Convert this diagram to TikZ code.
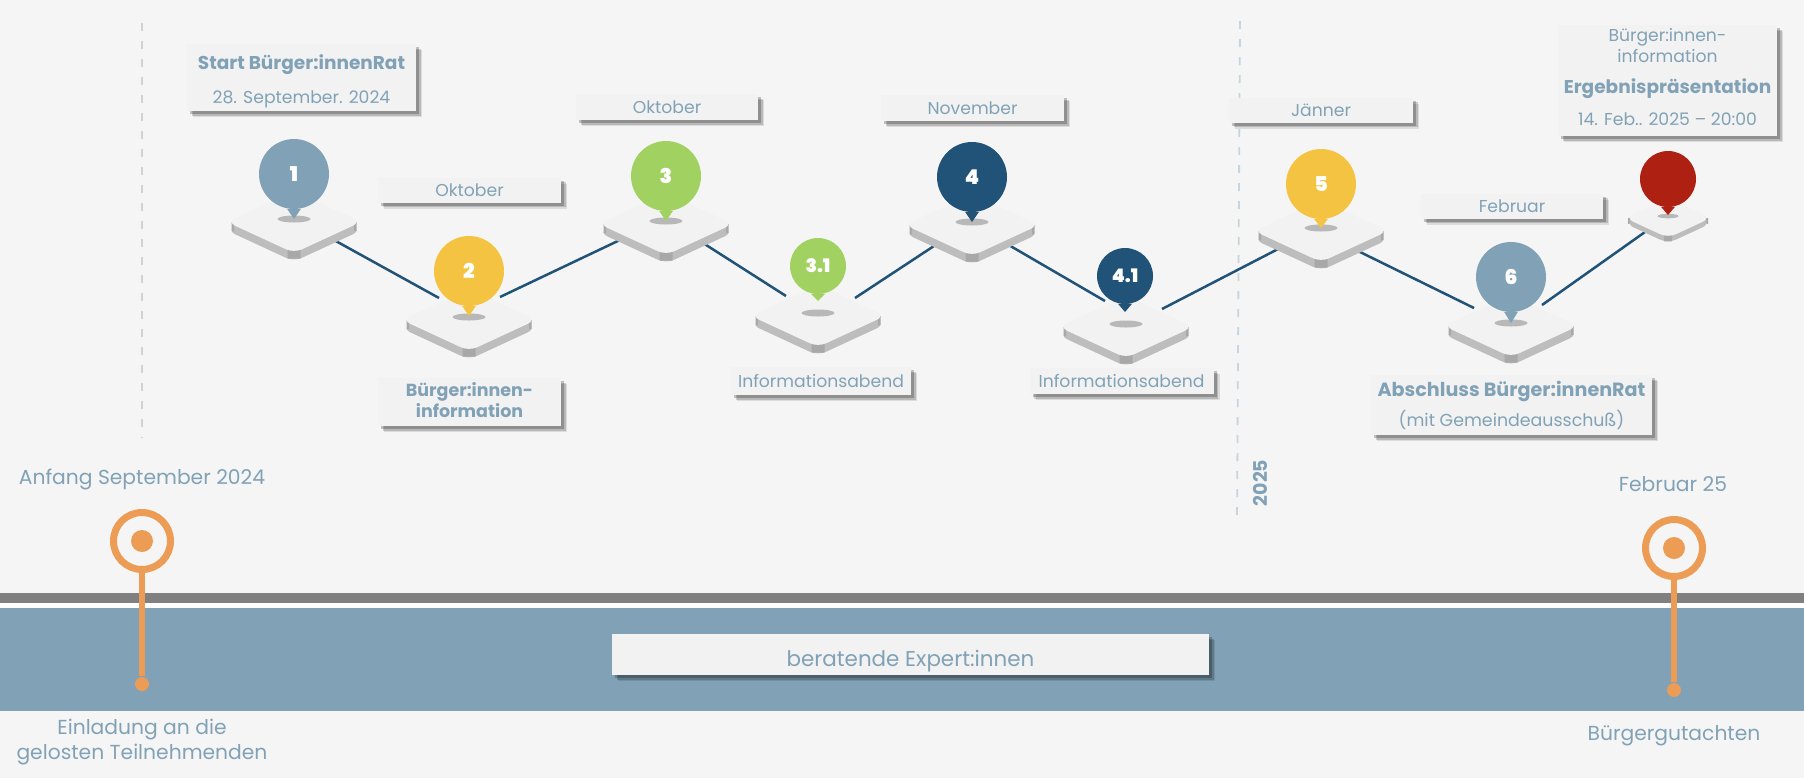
\documentclass[tikz,border=0pt]{standalone}
\usepackage{fontspec}
\setmainfont{Poppins}
\newfontfamily\numfont{Poppins Black}
\usetikzlibrary{shadows}
\definecolor{pagegray}{HTML}{F5F5F5}
\definecolor{boxgray}{HTML}{F2F2F2}
\definecolor{steel}{HTML}{81A2B6}
\definecolor{navy}{HTML}{215277}
\definecolor{sun}{HTML}{F5C342}
\definecolor{leaf}{HTML}{A1D160}
\definecolor{brick}{HTML}{AE2012}
\definecolor{amber}{HTML}{EC9C55}
\tikzset{
    platform/.pic={
        \fill[black!26, rounded corners=2.5pt] (-.67,-.085) -- (0,-.395) -- (.67,-.085) -- (0,.225) -- cycle;
        \fill[black!26] (-.62,0) rectangle (.62,-.085);
        \fill[black!34] (-.625,0) rectangle (-.60,-.09) (.60,0) rectangle (.625,-.09) (-.065,-.28) rectangle (.065,-.365);
        \fill[boxgray, rounded corners=2.5pt] (-.67,0) -- (0,-.31) -- (.67,0) -- (0,.31) -- cycle;
        \fill[black!28] (0,.03) ellipse (.165 and .035);
    }
}
\begin{document}
\begin{tikzpicture}[
    lbl/.style={rectangle, fill=boxgray, text=steel, align=center, inner sep=0pt, font=\fontsize{4.9}{5.9}\selectfont,
        drop shadow={shadow xshift=.06cm, shadow yshift=-.06cm, fill=black, opacity=.10},
        drop shadow={shadow xshift=.045cm, shadow yshift=-.045cm, fill=black, opacity=.16},
        drop shadow={shadow xshift=.03cm, shadow yshift=-.03cm, fill=black, opacity=.22}},
    free/.style={text=steel, align=center, inner sep=0pt, font=\fontsize{5.77}{7.1}\selectfont},
    pinhead/.style={circle, fill=#1, text=white, inner sep=0pt, minimum size=.70cm, font=\numfont\fontsize{5.8}{6}\selectfont},
    smallhead/.style={pinhead=#1, minimum size=.56cm, font=\numfont\fontsize{5.3}{6}\selectfont},
    link/.style={navy, line width=.025cm},
    divider/.style={dashed, dash pattern=on .08cm off .10cm, line width=.018cm},
    ring/.style={circle, draw=amber, fill=pagegray, line width=.07cm, minimum size=.57cm, inner sep=0pt},
    dot/.style={circle, fill=amber, inner sep=0pt, minimum size=#1},
    stem/.style={amber, line width=.06cm}
]
    % Page and band
    \fill[pagegray] (0,0) rectangle (18.04,7.78);
    \fill[black!50] (0,1.75) rectangle (18.04,1.85);
    \fill[white] (0,1.70) rectangle (18.04,1.75);
    \fill[steel] (0,0.67) rectangle (18.04,1.70);

    % Year dividers
    \draw[divider, black!18] (1.42,7.55) -- (1.42,3.40);
    \draw[divider, steel!45] (12.40,7.57) -- (12.37,2.58);
    \node[free, rotate=90, font=\bfseries\fontsize{5.4}{6}\selectfont] (year) at (12.60,2.95) {2025};

    % Anchors of the connectors
    \coordinate (p1se) at (3.34,5.38);
    \coordinate (p2nw) at (4.39,4.80);
    \coordinate (p2ne) at (5.00,4.81);
    \coordinate (p3sw) at (6.22,5.39);
    \coordinate (p3se) at (7.03,5.35);
    \coordinate (q3nw) at (7.86,4.82);
    \coordinate (q3ne) at (8.55,4.80);
    \coordinate (p4sw) at (9.37,5.34);
    \coordinate (p4se) at (10.07,5.34);
    \coordinate (q4nw) at (11.05,4.77);
    \coordinate (q4ne) at (11.62,4.69);
    \coordinate (p5sw) at (12.80,5.30);
    \coordinate (p5se) at (13.58,5.27);
    \coordinate (p6nw) at (14.74,4.70);
    \coordinate (p6ne) at (15.42,4.73);
    \coordinate (p7sw) at (16.45,5.46);

    % Connectors
    \draw[link] (p1se) -- (p2nw);
    \draw[link] (p2ne) -- (p3sw);
    \draw[link] (p3se) -- (q3nw);
    \draw[link] (q3ne) -- (p4sw);
    \draw[link] (p4se) -- (q4nw);
    \draw[link] (q4ne) -- (p5sw);
    \draw[link] (p5se) -- (p6nw);
    \draw[link] (p6ne) -- (p7sw);

    % Stops
    \pic at (2.94,5.56) {platform};
    \node[pinhead=steel] (n1) at (2.94,6.04) {1};
    \fill[steel] (n1.259) -- (2.94,5.59) -- (n1.281);

    \pic at (4.69,4.58) {platform};
    \node[pinhead=sun] (n2) at (4.69,5.07) {2};
    \fill[sun] (n2.259) -- (4.69,4.62) -- (n2.281);

    \pic at (6.66,5.54) {platform};
    \node[pinhead=leaf] (n3) at (6.66,6.02) {3};
    \fill[leaf] (n3.259) -- (6.66,5.57) -- (n3.281);

    \pic at (8.18,4.62) {platform};
    \node[smallhead=leaf] (n31) at (8.18,5.12) {3.1};
    \fill[leaf] (n31.256) -- (8.18,4.77) -- (n31.284);

    \pic at (9.72,5.53) {platform};
    \node[pinhead=navy] (n4) at (9.72,6.01) {4};
    \fill[navy] (n4.259) -- (9.72,5.56) -- (n4.281);

    \pic at (11.26,4.51) {platform};
    \node[smallhead=navy] (n41) at (11.25,5.02) {4.1};
    \fill[navy] (n41.256) -- (11.25,4.66) -- (n41.284);

    \pic at (13.21,5.47) {platform};
    \node[pinhead=sun] (n5) at (13.21,5.94) {5};
    \fill[sun] (n5.259) -- (13.21,5.50) -- (n5.281);

    \pic at (15.11,4.52) {platform};
    \node[pinhead=steel] (n6) at (15.11,5.01) {6};
    \fill[steel] (n6.259) -- (15.11,4.55) -- (n6.281);

    \pic[scale=.64] at (16.68,5.60) {platform};
    \node[smallhead=brick] (n7) at (16.68,5.99) {};
    \fill[brick] (n7.256) -- (16.68,5.63) -- (n7.284);

    % Labels
    \node[lbl, minimum width=2.29cm, minimum height=.67cm, font=\fontsize{4.9}{9.7}\selectfont] (start) at (3.015,7.005) {{\bfseries\fontsize{5.27}{9.7}\selectfont\rule{0pt}{6.6pt}Start Bürger:innenRat}\\28. September. 2024};
    \node[lbl, minimum width=1.83cm, minimum height=.25cm] (okt2) at (4.695,5.88) {Oktober};
    \node[lbl, minimum width=1.83cm, minimum height=.48cm, font=\bfseries\fontsize{4.97}{5.9}\selectfont] (info2) at (4.695,3.76) {Bürger:innen-\\information\rule[-1.3pt]{0pt}{0pt}};
    \node[lbl, minimum width=1.82cm, minimum height=.26cm] (okt3) at (6.67,6.71) {Oktober};
    \node[lbl, minimum width=1.83cm, minimum height=.26cm] (nov) at (9.725,6.70) {November};
    \node[lbl, minimum width=1.84cm, minimum height=.25cm] (jan) at (13.21,6.68) {Jänner};
    \node[lbl, minimum width=1.80cm, minimum height=.28cm] (abend3) at (8.21,3.97) {Informationsabend};
    \node[lbl, minimum width=1.84cm, minimum height=.26cm] (abend4) at (11.215,3.97) {Informationsabend};
    \node[lbl, minimum width=1.82cm, minimum height=.25cm] (feb) at (15.12,5.72) {Februar};
    \node[lbl, minimum width=2.81cm, minimum height=.60cm, font=\fontsize{4.95}{8.5}\selectfont] (ende) at (15.115,3.73) {{\bfseries\fontsize{5.45}{8.5}\selectfont Abschluss Bürger:innenRat}\\(mit Gemeindeausschuß)};
    \node[lbl, minimum width=2.19cm, minimum height=1.11cm] (ergebnis) at (16.675,6.975) {Bürger:innen-\\information\\[3pt]{\bfseries\fontsize{5.27}{6}\selectfont Ergebnispräsentation}\\[3pt]14. Feb.. 2025 -- 20:00\rule[-2pt]{0pt}{0pt}};
    \node[lbl, minimum width=5.97cm, minimum height=.41cm, font=\fontsize{6.1}{7}\selectfont] (berater) at (9.105,1.235) {\rule{0pt}{8.5pt}beratende Expert:innen};

    % Start and end markers
    \node[free] (anfang) at (1.42,2.99) {Anfang September 2024};
    \node[dot=.14cm] (e1) at (1.42,.94) {};
    \node[ring] (m1) at (1.42,2.37) {};
    \node[dot=.22cm] (c1) at (1.42,2.37) {};
    \draw[stem] (m1) -- (e1);
    \node[free] (laden) at (1.42,.36) {Einladung an die\\gelosten Teilnehmenden};

    \node[free] (feb25) at (16.73,2.94) {Februar 25};
    \node[dot=.14cm] (e2) at (16.74,.88) {};
    \node[ring] (m2) at (16.74,2.30) {};
    \node[dot=.22cm] (c2) at (16.74,2.30) {};
    \draw[stem] (m2) -- (e2);
    \node[free] (gutachten) at (16.74,.42) {Bürgergutachten};
\end{tikzpicture}
\end{document}
